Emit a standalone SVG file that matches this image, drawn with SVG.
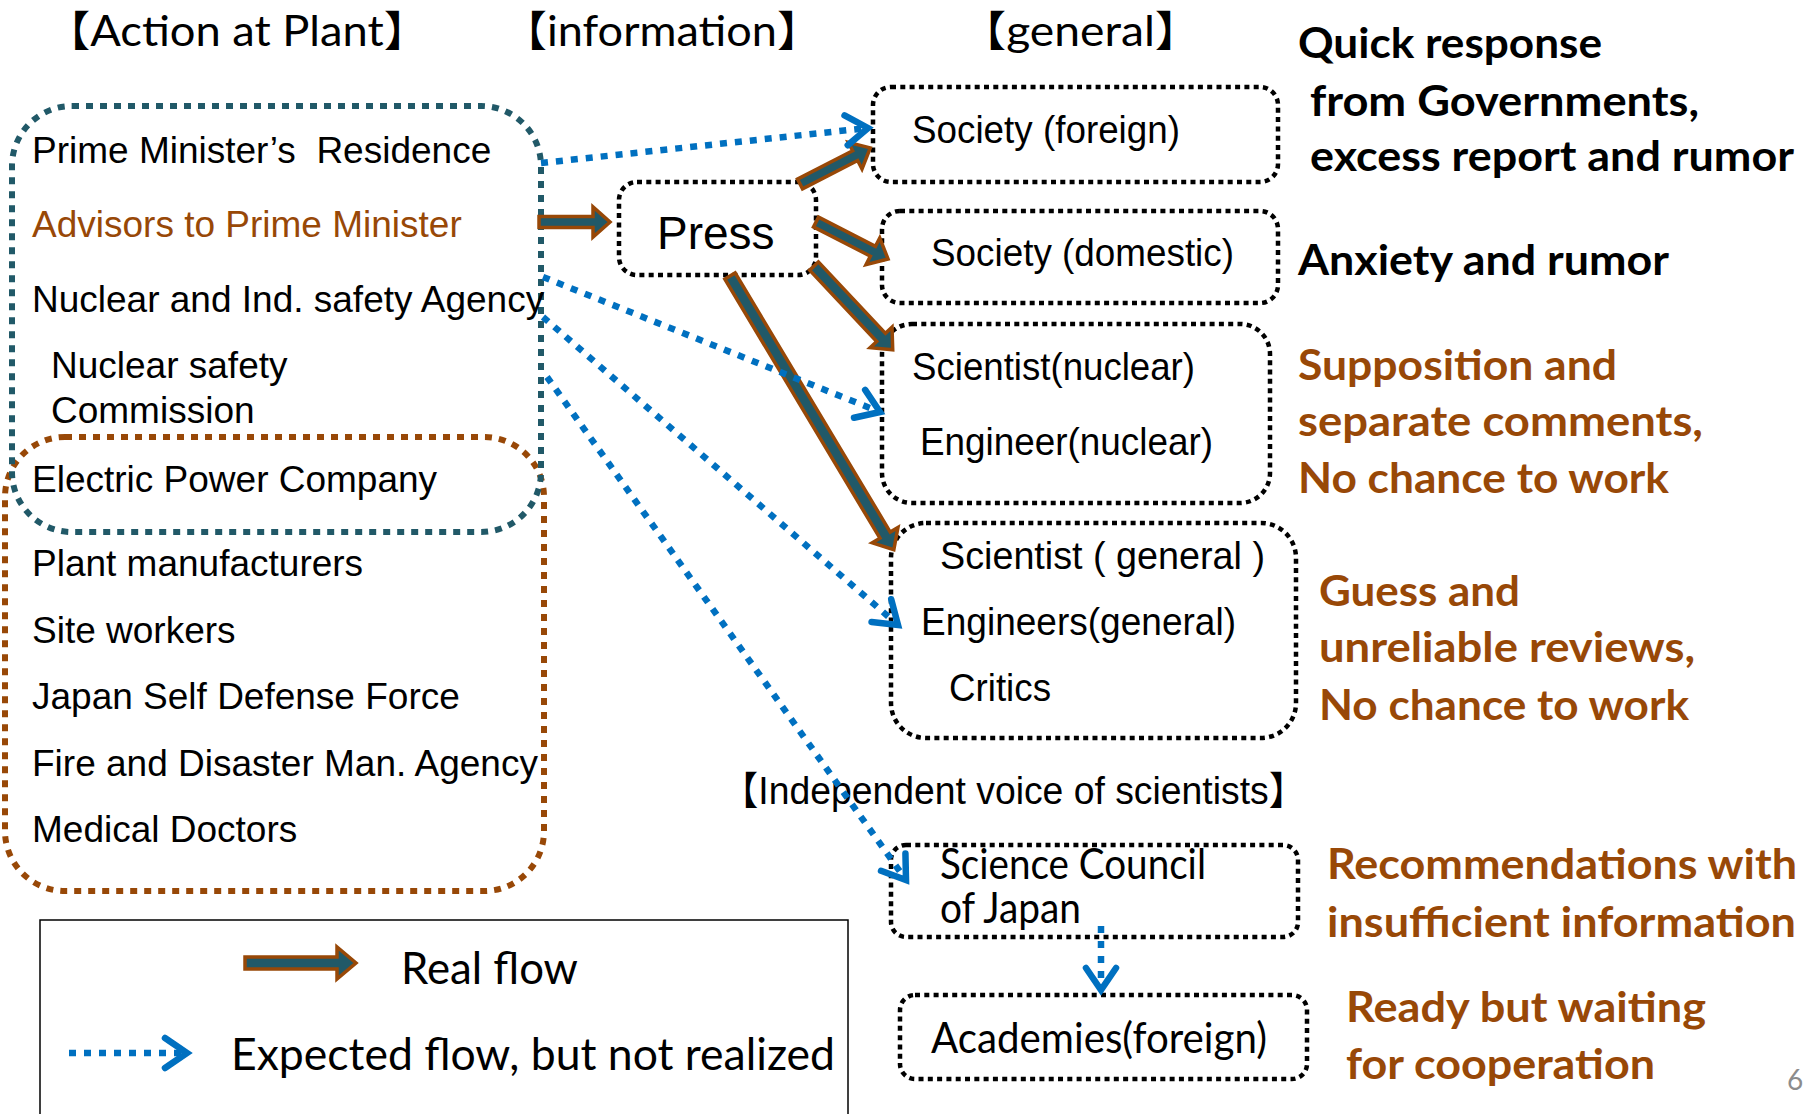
<svg xmlns="http://www.w3.org/2000/svg" width="1814" height="1114" viewBox="0 0 1814 1114">
  <defs>
    <style>
      .hdr { font-family: Lato, "Noto Sans CJK JP", sans-serif; font-size: 42px; fill: #000; }
      .lbl { font-family: "Liberation Sans", Arial, sans-serif; font-size: 37px; fill: #000; white-space: pre; }
      .nlbl { font-family: "Liberation Sans", Arial, sans-serif; font-size: 39px; fill: #000; }
      .cal { font-family: Lato, "Noto Sans CJK JP", sans-serif; font-size: 42px; fill: #000; }
      .note { font-family: Lato, sans-serif; font-weight: bold; font-size: 42px; }
      .blk { fill: #000; }
      .org { fill: #984807; }
      .grp-teal { fill: none; stroke: #215968; stroke-width: 6; stroke-dasharray: 7 7; }
      .grp-org { fill: none; stroke: #984807; stroke-width: 6; stroke-dasharray: 7 7; }
      .box { fill: none; stroke: #000; stroke-width: 4.5; stroke-dasharray: 5 4.3; }
      .real { fill: #215968; stroke: #984807; stroke-width: 3.5; stroke-linejoin: miter; }
      .exp { fill: none; stroke: #0070C0; stroke-width: 6.5; stroke-dasharray: 7 8; marker-end: url(#chev); }
    </style>
    <marker id="chev" markerUnits="userSpaceOnUse" viewBox="-30 -20 36 40" markerWidth="36" markerHeight="40" refX="0" refY="0" orient="auto" overflow="visible">
      <path d="M-22,-15 L0,0 L-22,15" fill="none" stroke="#0070C0" stroke-width="6.5" stroke-linecap="round"/>
    </marker>
  </defs>

  <rect width="1814" height="1114" fill="#fff"/>

  <!-- column headers -->
  <g id="headers">
    <text class="hdr" x="45" y="46" textLength="384" lengthAdjust="spacingAndGlyphs">【Action at Plant】</text>
    <text class="hdr" x="502" y="46" textLength="320" lengthAdjust="spacingAndGlyphs">【information】</text>
    <text class="hdr" x="960" y="46" textLength="241" lengthAdjust="spacingAndGlyphs">【general】</text>
  </g>

  <!-- government / plant actors -->
  <g id="plant-group">
    <rect class="grp-org" x="5" y="437" width="539" height="454" rx="60"/>
    <rect class="grp-teal" x="12" y="106" width="529" height="426" rx="60"/>
    <text class="lbl" x="32" y="163" xml:space="preserve">Prime Minister’s  Residence</text>
    <text class="lbl" x="32" y="237" style="fill:#984807">Advisors to Prime Minister</text>
    <text class="lbl" x="32" y="312">Nuclear and Ind. safety Agency</text>
    <text class="lbl" x="51" y="378">Nuclear safety</text>
    <text class="lbl" x="51" y="423">Commission</text>
    <text class="lbl" x="32" y="492">Electric Power Company</text>
    <text class="lbl" x="32" y="576">Plant manufacturers</text>
    <text class="lbl" x="32" y="643">Site workers</text>
    <text class="lbl" x="32" y="709">Japan Self Defense Force</text>
    <text class="lbl" x="32" y="776">Fire and Disaster Man. Agency</text>
    <text class="lbl" x="32" y="842">Medical Doctors</text>
  </g>

  <g id="press">
    <rect class="box" x="619" y="182" width="197" height="93" rx="18"/>
    <text class="nlbl" x="657" y="249" style="font-size:46px">Press</text>
  </g>

  <g id="society-foreign">
    <rect class="box" x="873" y="87" width="405" height="95" rx="18"/>
    <text class="nlbl" x="912" y="143" textLength="268" lengthAdjust="spacingAndGlyphs">Society (foreign)</text>
  </g>

  <g id="society-domestic">
    <rect class="box" x="882" y="211" width="396" height="92" rx="18"/>
    <text class="nlbl" x="931" y="266" textLength="303" lengthAdjust="spacingAndGlyphs">Society (domestic)</text>
  </g>

  <g id="nuclear-experts">
    <rect class="box" x="882" y="324" width="388" height="179" rx="30"/>
    <text class="nlbl" x="912" y="380" textLength="283" lengthAdjust="spacingAndGlyphs">Scientist(nuclear)</text>
    <text class="nlbl" x="920" y="455" textLength="293" lengthAdjust="spacingAndGlyphs">Engineer(nuclear)</text>
  </g>

  <g id="general-experts">
    <rect class="box" x="891" y="523" width="405" height="215" rx="35"/>
    <text class="nlbl" x="940" y="569" textLength="325" lengthAdjust="spacingAndGlyphs">Scientist ( general )</text>
    <text class="nlbl" x="921" y="635" textLength="315" lengthAdjust="spacingAndGlyphs">Engineers(general)</text>
    <text class="nlbl" x="949" y="701" textLength="102" lengthAdjust="spacingAndGlyphs">Critics</text>
  </g>

  <text class="nlbl" x="721" y="804" textLength="585" lengthAdjust="spacingAndGlyphs" style="font-family:'Liberation Sans','Noto Sans CJK JP',sans-serif">【Independent voice of scientists】</text>

  <g id="science-council">
    <rect class="box" x="891" y="845" width="407" height="92" rx="15"/>
    <text class="cal" x="940" y="879" textLength="266" lengthAdjust="spacingAndGlyphs">Science Council</text>
    <text class="cal" x="940" y="923" textLength="141" lengthAdjust="spacingAndGlyphs">of Japan</text>
  </g>

  <g id="academies">
    <rect class="box" x="900" y="995" width="407" height="84" rx="15"/>
    <text class="cal" x="931" y="1053" textLength="336" lengthAdjust="spacingAndGlyphs">Academies(foreign)</text>
  </g>

  <!-- outcome notes -->
  <g id="notes">
    <text class="note blk" x="1298" y="58" textLength="304" lengthAdjust="spacingAndGlyphs">Quick response</text>
    <text class="note blk" x="1310" y="116" textLength="389" lengthAdjust="spacingAndGlyphs">from Governments,</text>
    <text class="note blk" x="1310" y="171" textLength="484" lengthAdjust="spacingAndGlyphs">excess report and rumor</text>
    <text class="note blk" x="1298" y="275" textLength="371" lengthAdjust="spacingAndGlyphs">Anxiety and rumor</text>
    <text class="note org" x="1298" y="380" textLength="319" lengthAdjust="spacingAndGlyphs">Supposition and</text>
    <text class="note org" x="1298" y="436" textLength="405" lengthAdjust="spacingAndGlyphs">separate comments,</text>
    <text class="note org" x="1298" y="493" textLength="371" lengthAdjust="spacingAndGlyphs">No chance to work</text>
    <text class="note org" x="1319" y="606" textLength="201" lengthAdjust="spacingAndGlyphs">Guess and</text>
    <text class="note org" x="1319" y="662" textLength="376" lengthAdjust="spacingAndGlyphs">unreliable reviews,</text>
    <text class="note org" x="1319" y="720" textLength="370" lengthAdjust="spacingAndGlyphs">No chance to work</text>
    <text class="note org" x="1327" y="879" textLength="470" lengthAdjust="spacingAndGlyphs">Recommendations with</text>
    <text class="note org" x="1327" y="937" textLength="469" lengthAdjust="spacingAndGlyphs">insufficient information</text>
    <text class="note org" x="1346" y="1022" textLength="360" lengthAdjust="spacingAndGlyphs">Ready but waiting</text>
    <text class="note org" x="1346" y="1079" textLength="309" lengthAdjust="spacingAndGlyphs">for cooperation</text>
  </g>

  <!-- flows -->
  <g id="connectors">
    <!-- real flow (block arrows) -->
    <path class="real" transform="translate(539,222)" d="M0,-5.5 H54 V-15 L71,0 L54,15 V5.5 H0 Z"/>
    <path class="real" transform="translate(800,184) rotate(-27.2)" d="M0,-5.5 H62 V-15 L79,0 L62,15 V5.5 H0 Z"/>
    <path class="real" transform="translate(816,222) rotate(27.2)" d="M0,-5.5 H64 V-15 L81,0 L64,15 V5.5 H0 Z"/>
    <path class="real" transform="translate(814,266) rotate(46.8)" d="M0,-6 H98 V-15 L115,0 L98,15 V6 H0 Z"/>
    <path class="real" transform="translate(730,276) rotate(59.1)" d="M0,-6 H302 V-15 L319,0 L302,15 V6 H0 Z"/>
    <!-- expected flow, not realized -->
    <line class="exp" x1="541" y1="163" x2="868" y2="128"/>
    <line class="exp" x1="543" y1="277" x2="880" y2="412"/>
    <line class="exp" x1="543" y1="317" x2="898" y2="625"/>
    <line class="exp" x1="547" y1="377" x2="906" y2="880"/>
    <line class="exp" x1="1101" y1="926" x2="1101" y2="990"/>
  </g>

  <!-- legend -->
  <g id="legend">
    <rect x="40" y="920" width="808" height="220" fill="none" stroke="#000" stroke-width="1.5"/>
    <path class="real" transform="translate(245,963)" d="M0,-6 H92 V-16 L111,0 L92,16 V6 H0 Z"/>
    <text class="cal" x="401" y="984" textLength="177" lengthAdjust="spacingAndGlyphs" style="font-size:44px">Real flow</text>
    <line class="exp" x1="69" y1="1053" x2="187" y2="1053"/>
    <text class="cal" x="231" y="1070" textLength="604" lengthAdjust="spacingAndGlyphs" style="font-size:44px">Expected flow, but not realized</text>
  </g>

  <text x="1787" y="1090" style="font-family:Lato,sans-serif;font-size:28px;fill:#8c8c8c">6</text>
</svg>
